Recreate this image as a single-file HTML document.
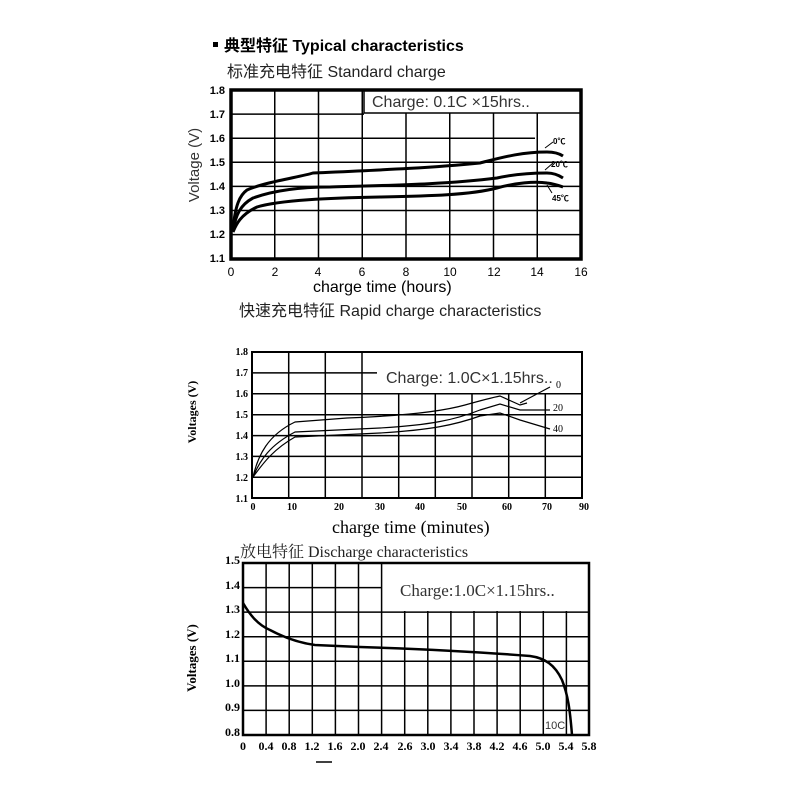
<!DOCTYPE html>
<html><head><meta charset="utf-8"><style>
html,body{margin:0;padding:0;background:#fff;width:800px;height:800px;overflow:hidden}
svg{display:block}
</style></head><body>
<svg width="800" height="800" xmlns="http://www.w3.org/2000/svg" font-family="Liberation Sans, Noto Sans CJK SC, sans-serif">
<rect width="800" height="800" fill="#fff"/>
<!-- titles -->
<rect x="213" y="42" width="5" height="5" fill="#000"/>
<text x="224" y="51" font-size="16" font-weight="bold">典型特征 Typical characteristics</text>
<text x="227" y="77" font-size="16" fill="#222">标准充电特征 Standard charge</text>

<!-- Chart 1 -->
<g stroke="#000" stroke-width="1.5" fill="none">
<path d="M274.75 90V259M318.5 90V259M362.25 90V259M406 113V259M449.75 113V259M493.5 113V259M537.25 113V259"/>
<path d="M231 114.1H364M231 138.2H535M231 162.3H580M231 186.4H580M231 210.5H580M231 234.6H580"/>
<path d="M364 90V113H580"/>
</g>
<rect x="231" y="90" width="350" height="169" fill="none" stroke="#000" stroke-width="3.5"/>
<text x="372" y="107" font-size="16" fill="#333">Charge: 0.1C  ×15hrs..</text>
<g font-size="11" font-weight="bold" text-anchor="end">
<text x="225" y="94">1.8</text><text x="225" y="118">1.7</text><text x="225" y="142">1.6</text><text x="225" y="166">1.5</text><text x="225" y="190">1.4</text><text x="225" y="214">1.3</text><text x="225" y="238">1.2</text><text x="225" y="262">1.1</text>
</g>
<g font-size="12" text-anchor="middle">
<text x="231" y="276">0</text><text x="275" y="276">2</text><text x="318" y="276">4</text><text x="362" y="276">6</text><text x="406" y="276">8</text><text x="450" y="276">10</text><text x="494" y="276">12</text><text x="537" y="276">14</text><text x="581" y="276">16</text>
</g>
<text x="313" y="292" font-size="16">charge time (hours)</text>
<text transform="translate(199,165) rotate(-90)" font-size="15" text-anchor="middle" fill="#333">Voltage (V)</text>
<g stroke="#000" stroke-width="3" fill="none">
<path d="M233 230 C235 205,240 195,247 190 C265 182,300 177,313 173 C380 170,430 168,480 163 C500 158,520 152,547 152 C555 152,560 154,563 156"/>
<path d="M233 230 C236 215,240 205,253 198 C275 190,300 187,330 187 C400 185,450 184,497 178 C515 174,535 173,547 173 C555 173,560 176,563 178"/>
<path d="M233 232 C236 225,240 215,257 207 C280 200,330 198,380 197 C430 196,470 195,497 188 C515 183,535 181,547 183 C555 184,560 186,563 187"/>
</g>
<g stroke="#000" stroke-width="1" fill="none"><path d="M545 148L553 142M545 170L553 163M547 185L552 193"/></g>
<g font-size="8" font-weight="bold"><text x="553" y="144">0℃</text><text x="551" y="167">20℃</text><text x="552" y="201">45℃</text></g>

<!-- Chart 2 -->
<text x="239" y="316" font-size="16" fill="#222">快速充电特征 Rapid charge characteristics</text>
<g stroke="#000" stroke-width="1.5" fill="none">
<path d="M288.7 352V498M325.3 352V498M362 352V498M398.7 394V498M435.3 394V498M472 394V498M508.7 394V498M545.3 394V498"/>
<path d="M252 372.9H377M252 414.7H582M252 435.6H582M252 456.4H582M252 477.3H582"/>
<path d="M252 393.8H582"/>
</g>
<rect x="252" y="352" width="330" height="146" fill="none" stroke="#000" stroke-width="2"/>
<text x="386" y="383" font-size="16" fill="#333">Charge: 1.0C×1.15hrs..</text>
<g font-size="10" font-weight="bold" text-anchor="end" font-family="Liberation Serif, serif">
<text x="248" y="355">1.8</text><text x="248" y="376">1.7</text><text x="248" y="397">1.6</text><text x="248" y="418">1.5</text><text x="248" y="439">1.4</text><text x="248" y="460">1.3</text><text x="248" y="481">1.2</text><text x="248" y="502">1.1</text>
</g>
<g font-size="10" font-weight="bold" text-anchor="middle" font-family="Liberation Serif, serif">
<text x="253" y="510">0</text><text x="292" y="510">10</text><text x="339" y="510">20</text><text x="380" y="510">30</text><text x="420" y="510">40</text><text x="462" y="510">50</text><text x="507" y="510">60</text><text x="547" y="510">70</text><text x="584" y="510">90</text>
</g>
<text x="332" y="533" font-size="18" font-family="Liberation Serif, serif">charge time (minutes)</text>
<text transform="translate(196,412) rotate(-90)" font-size="12" text-anchor="middle" font-family="Liberation Serif, serif" font-weight="bold">Voltages (V)</text>
<g stroke="#000" stroke-width="1.2" fill="none">
<path d="M253 477 C258 455,268 435,295 422 L347 418 C400 416,440 412,465 405 C490 398,500 396,500 396 L520 405 L527 403"/>
<path d="M253 477 C260 460,270 445,295 432 L380 428 C430 425,455 420,480 410 L500 404 L520 410 L550 410"/>
<path d="M253 477 C262 465,272 450,295 437 L380 433 C430 430,455 425,480 416 L500 413 L520 420 L550 429"/>
<path d="M520 403L550 387"/>
</g>
<g font-size="10" font-family="Liberation Serif, serif"><text x="556" y="388">0</text><text x="553" y="411">20</text><text x="553" y="432">40</text></g>

<!-- Chart 3 -->
<text x="240" y="557" font-size="16" fill="#222" font-family="Liberation Serif, Noto Serif CJK SC, serif">放电特征 Discharge characteristics</text>
<g stroke="#000" stroke-width="1.5" fill="none">
<path d="M266.1 563V735M289.2 563V735M312.3 563V735M335.4 563V735M358.5 563V735M381.6 563V735"/>
<path d="M404.7 611V735M427.8 611V735M450.9 611V735M474 611V735M497.1 611V735M520.2 611V735M543.3 611V735M566.4 611V735"/>
<path d="M243 587.6H382M243 612.1H589M243 636.7H589M243 661.3H589M243 685.9H589M243 710.4H589"/>
</g>
<rect x="243" y="563" width="346" height="172" fill="none" stroke="#000" stroke-width="2.5"/>
<text x="400" y="596" font-size="17" fill="#333" font-family="Liberation Serif, serif">Charge:1.0C×1.15hrs..</text>
<g font-size="12" font-weight="bold" text-anchor="end" font-family="Liberation Serif, serif">
<text x="240" y="564">1.5</text><text x="240" y="589">1.4</text><text x="240" y="613">1.3</text><text x="240" y="638">1.2</text><text x="240" y="662">1.1</text><text x="240" y="687">1.0</text><text x="240" y="711">0.9</text><text x="240" y="736">0.8</text>
</g>
<g font-size="12" font-weight="bold" text-anchor="middle" font-family="Liberation Serif, serif">
<text x="243" y="750">0</text><text x="266" y="750">0.4</text><text x="289" y="750">0.8</text><text x="312" y="750">1.2</text><text x="335" y="750">1.6</text><text x="358" y="750">2.0</text><text x="381" y="750">2.4</text><text x="405" y="750">2.6</text><text x="428" y="750">3.0</text><text x="451" y="750">3.4</text><text x="474" y="750">3.8</text><text x="497" y="750">4.2</text><text x="520" y="750">4.6</text><text x="543" y="750">5.0</text><text x="566" y="750">5.4</text><text x="589" y="750">5.8</text>
</g>
<text transform="translate(196,658) rotate(-90)" font-size="13" text-anchor="middle" font-family="Liberation Serif, serif" font-weight="bold">Voltages (V)</text>
<path d="M243 603 C250 615,258 625,270 630 C285 638,300 643,315 645 L360 647 C420 649,480 652,530 656 C545 658,555 665,562 680 C568 695,570 710,572 735" stroke="#000" stroke-width="2.5" fill="none"/>
<text x="545" y="729" font-size="11" fill="#333">10C</text>
<path d="M316 762H332" stroke="#000" stroke-width="1.5"/>
</svg>
</body></html>
